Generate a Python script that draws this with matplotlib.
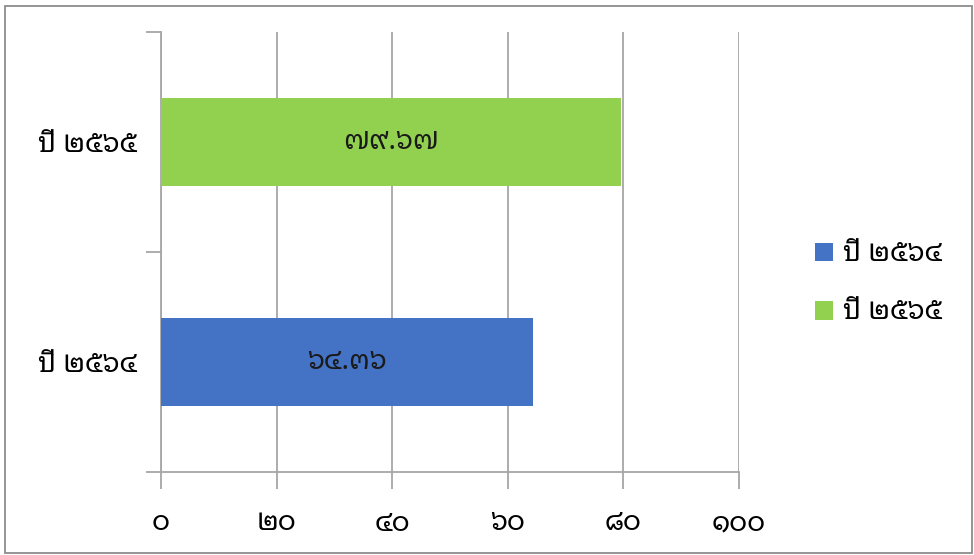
import matplotlib
matplotlib.use("Agg")
import matplotlib.pyplot as plt
from matplotlib.patches import Rectangle, Patch

plt.rcParams['font.family'] = ['Noto Sans Thai Looped', 'DejaVu Sans']
plt.rcParams['font.weight'] = 'light'

years = ["ปี ๒๕๖๔", "ปี ๒๕๖๕"]
values = [64.36, 79.67]
value_labels = ["๖๔.๓๖", "๗๙.๖๗"]
colors = ["#4472C4", "#92D050"]
xticks = [0, 20, 40, 60, 80, 100]
xtick_labels = ["๐", "๒๐", "๔๐", "๖๐", "๘๐", "๑๐๐"]

grey = "#A6A6A6"

fig = plt.figure(figsize=(9.74, 5.55), dpi=100)
ax = fig.add_axes([161 / 974, 83 / 555, 578 / 974, 440 / 555])

pos = list(range(len(years)))
ax.barh(pos, values, height=0.4, color=colors, zorder=3)
for p, v, lab in zip(pos, values, value_labels):
    ax.text(v / 2, p, lab, ha="center", va="center", fontsize=20, color="#1a1a1a", zorder=4)

ax.set_xlim(0, 100)
ax.set_ylim(-0.5, 1.5)
ax.set_xticks(xticks)
ax.set_xticklabels(xtick_labels, fontsize=20)
ax.set_yticks(pos)
ax.set_yticklabels(years, fontsize=20)
ax.set_yticks([-0.5, 0.5, 1.5], minor=True)
ax.tick_params(axis="y", which="major", length=0, pad=17)
ax.tick_params(axis="y", which="minor", length=11, color=grey, width=1.3)
ax.tick_params(axis="x", length=12, color=grey, width=1.3, pad=15)

ax.grid(axis="x", color=grey, linewidth=1.3, zorder=0)
for s in ["top", "right"]:
    ax.spines[s].set_visible(False)
for s in ["left", "bottom"]:
    ax.spines[s].set_color(grey)
    ax.spines[s].set_linewidth(1.3)

handles = [Patch(facecolor=c, edgecolor="none") for c in colors]
fig.legend(handles, years, loc="center left", bbox_to_anchor=(790 / 974, 1 - 284 / 555),
           frameon=False, fontsize=20, handlelength=0.65, handleheight=0.65,
           handletextpad=0.36, labelspacing=1.1)

fig.patches.append(Rectangle((5 / 974, 2 / 555), 967 / 974, 547 / 555, transform=fig.transFigure,
                             fill=False, edgecolor="#8C8C8C", linewidth=1.3))

fig.savefig("out.png")
